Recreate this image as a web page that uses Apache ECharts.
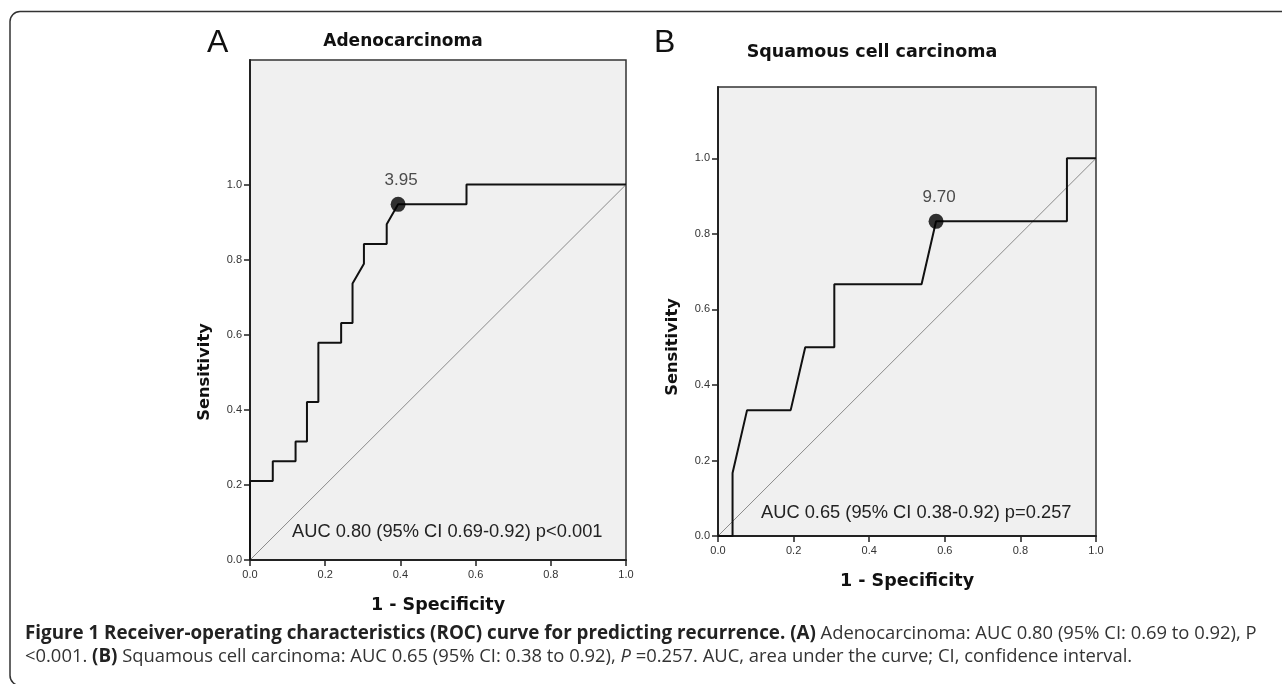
<!DOCTYPE html>
<html>
<head>
<meta charset="utf-8">
<script src="https://cdn.jsdelivr.net/npm/echarts@6/dist/echarts.min.js"></script>
<style>
html,body{margin:0;padding:0;background:#fff;}
#c{width:1282px;height:684px;}
</style>
</head>
<body>
<div id="c"></div>
<script>
// ---- Data ----
// Panel A: Adenocarcinoma ROC curve points [1-specificity, sensitivity]
const rocA = [
  [0,0],[0,0.2105],[0.0606,0.2105],[0.0606,0.2632],[0.1212,0.2632],[0.1212,0.3158],
  [0.1515,0.3158],[0.1515,0.4211],[0.1818,0.4211],[0.1818,0.5789],[0.2424,0.5789],
  [0.2424,0.6316],[0.2727,0.6316],[0.2727,0.7368],[0.3030,0.7895],[0.3030,0.8421],
  [0.3636,0.8421],[0.3636,0.8947],[0.3939,0.9474],[0.5758,0.9474],[0.5758,1],[1,1]
];
const cutA = [0.3939,0.9474];
const cutLabelA = '3.95';
// Panel B: Squamous cell carcinoma ROC curve points
const rocB = [
  [0,0],[0.0385,0],[0.0385,0.1667],[0.0769,0.3333],[0.1923,0.3333],[0.2308,0.5],
  [0.3077,0.5],[0.3077,0.6667],[0.5385,0.6667],[0.5769,0.8333],[0.9231,0.8333],
  [0.9231,1],[1,1]
];
const cutB = [0.5769,0.8333];
const cutLabelB = '9.70';
const diagonal = [[0,0],[1,1]];
const tickValues = [0,0.2,0.4,0.6,0.8,1.0];
const titles = ['Adenocarcinoma','Squamous cell carcinoma'];
const aucTexts = ['AUC 0.80 (95% CI 0.69-0.92) p<0.001','AUC 0.65 (95% CI 0.38-0.92) p=0.257'];
const panelLetters = ['A','B'];
const xName = '1 - Specificity';
const yName = 'Sensitivity';

const chart = echarts.init(document.getElementById('c'), null, {renderer:'canvas'});
const tickFont = {fontFamily:'Liberation Sans', fontSize:11, color:'#333'};

function xAxis(gi){
  return {
    type:'value', gridIndex:gi, min:0, max:1, interval:0.2,
    splitLine:{show:false},
    axisLine:{show:true, onZero:false, lineStyle:{color:'#222', width:2}},
    axisTick:{show:true, length:6, lineStyle:{color:'#222', width:1.5}},
    axisLabel:Object.assign({margin:9, formatter:v=>v.toFixed(1)}, tickFont),
    name:xName, nameLocation:'middle', nameGap:36,
    nameTextStyle:{fontFamily:'DejaVu Sans', fontWeight:'bold', fontSize:17.5, color:'#111'}
  };
}
function yAxis(gi, max){
  return {
    type:'value', gridIndex:gi, min:0, max:max,
    splitLine:{show:false},
    axisLine:{show:true, onZero:false, lineStyle:{color:'#222', width:2}},
    axisTick:{show:true, length:6, customValues:tickValues, lineStyle:{color:'#222', width:1.5}},
    axisLabel:Object.assign({margin:8, customValues:tickValues, formatter:v=>v.toFixed(1)}, tickFont)
  };
}
function series(gi, roc, cut, label){
  return [
    {type:'line', xAxisIndex:gi, yAxisIndex:gi, data:diagonal, symbol:'none', silent:true,
     lineStyle:{color:'#8a8a8a', width:1}, z:2},
    {type:'line', xAxisIndex:gi, yAxisIndex:gi, data:roc, symbol:'none', silent:true,
     lineStyle:{color:'#111', width:2}, z:3},
    {type:'scatter', xAxisIndex:gi, yAxisIndex:gi, data:[cut], symbol:'circle', symbolSize:15,
     itemStyle:{color:'#000'}, z:4,
     label:{show:true, position:'top', distance:8, offset:[3,0], formatter:label,
            fontFamily:'Liberation Sans', fontSize:17, color:'#222'}}
  ];
}

const capB = 'bold 18.8px "Open Sans"';
const capN = '18.4px "Open Sans"';
const capI = 'italic 18.4px "Open Sans"';

const option = {
  backgroundColor:'#fff',
  animation:false,
  grid:[
    {left:250, top:60, width:376, height:500, show:true, backgroundColor:'#f0f0f0', borderColor:'#333', borderWidth:1.5},
    {left:718, top:87, width:378, height:449, show:true, backgroundColor:'#f0f0f0', borderColor:'#333', borderWidth:1.5}
  ],
  xAxis:[xAxis(0), xAxis(1)],
  yAxis:[yAxis(0, 1.332), yAxis(1, 1.189)],
  series:[].concat(series(0, rocA, cutA, cutLabelA), series(1, rocB, cutB, cutLabelB)),
  graphic:[
    {type:'rect', shape:{x:10, y:11.5, width:1320, height:674, r:10}, silent:true,
     style:{fill:'none', stroke:'#333', lineWidth:1.5}, z:-1},
    {type:'text', left:207, top:27, style:{text:panelLetters[0], font:'32px "Liberation Sans"', fill:'#111'}},
    {type:'text', left:654, top:27, style:{text:panelLetters[1], font:'32px "Liberation Sans"', fill:'#111'}},
    {type:'text', x:403, y:42, style:{text:titles[0], font:'bold 17px "DejaVu Sans"', fill:'#111', align:'center', verticalAlign:'middle'}},
    {type:'text', x:872, y:52, style:{text:titles[1], font:'bold 17.5px "DejaVu Sans"', fill:'#111', align:'center', verticalAlign:'middle'}},
    {type:'text', x:205, y:372, rotation:Math.PI/2, style:{text:yName, font:'bold 16.3px "DejaVu Sans"', fill:'#111', align:'center', verticalAlign:'middle'}},
    {type:'text', x:673, y:347, rotation:Math.PI/2, style:{text:yName, font:'bold 16.3px "DejaVu Sans"', fill:'#111', align:'center', verticalAlign:'middle'}},
    {type:'text', x:292, y:532, z:10, style:{text:aucTexts[0], font:'18.3px "Liberation Sans"', fill:'#222', verticalAlign:'middle'}},
    {type:'text', x:761, y:513, z:10, style:{text:aucTexts[1], font:'18.3px "Liberation Sans"', fill:'#222', verticalAlign:'middle'}},
    {type:'text', x:25, y:634, style:{
      text:'{b|Figure 1 Receiver-operating characteristics (ROC) curve for predicting recurrence. (A)}{n| Adenocarcinoma: AUC 0.80 (95% CI: 0.69 to 0.92), P}',
      verticalAlign:'middle',
      rich:{b:{font:capB, fill:'#222'}, n:{font:capN, fill:'#333'}}
    }},
    {type:'text', x:25, y:657, style:{
      text:'{n|<0.001. }{b|(B)}{n| Squamous cell carcinoma: AUC 0.65 (95% CI: 0.38 to 0.92), }{i|P}{n| =0.257. AUC, area under the curve; CI, confidence interval.}',
      verticalAlign:'middle',
      rich:{b:{font:capB, fill:'#222'}, n:{font:capN, fill:'#333'}, i:{font:capI, fill:'#333'}}
    }}
  ]
};
chart.setOption(option);
</script>
</body>
</html>
